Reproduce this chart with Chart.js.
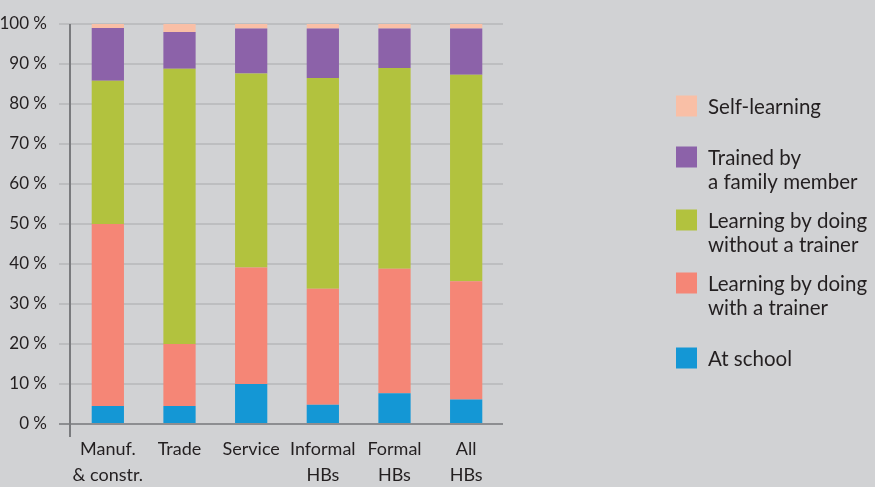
<!DOCTYPE html>
<html>
<head>
<meta charset="utf-8">
<script src="https://cdn.jsdelivr.net/npm/chart.js@4"></script>
<style>
  html, body { margin: 0; padding: 0; background: #d1d2d4; }
  #wrap { width: 875px; height: 487px; position: relative; }
</style>
</head>
<body>
<div id="wrap"><canvas id="chart"></canvas></div>
<script>
// ===== Data =====
const categories = [['Manuf.', '& constr.'], ['Trade'], ['Service'], ['Informal', 'HBs'], ['Formal', 'HBs'], ['All', 'HBs']];
const yTicks = [0, 10, 20, 30, 40, 50, 60, 70, 80, 90, 100];

const atSchool      = [4.5, 4.5, 10.0, 4.8, 7.7, 6.1];
const withTrainer   = [45.5, 15.5, 29.1, 29.0, 31.1, 29.6];
const withoutTrainer= [35.8, 68.8, 48.5, 52.7, 50.2, 51.6];
const familyMember  = [13.2, 9.2, 11.3, 12.4, 9.9, 11.6];
const selfLearning  = [1.0, 2.0, 1.1, 1.1, 1.1, 1.1];

const seriesNames = [
    ['At school'],
    ['Learning by doing', 'with a trainer'],
    ['Learning by doing', 'without a trainer'],
    ['Trained by', 'a family member'],
    ['Self-learning']
];
const seriesColors = ['#1497d5', '#f58676', '#b2c23e', '#8c62a9', '#f9bfa6'];
const seriesValues = [atSchool, withTrainer, withoutTrainer, familyMember, selfLearning];

const FONT = 'Lato, "Open Sans", sans-serif';
const TEXT = '#231f20';

// ===== Grid, axes and legend drawn by hand =====
const framePlugin = {
    id: 'frame',
    beforeDatasetsDraw(chart) {
        const { ctx, chartArea: a, scales: { y } } = chart;
        ctx.save();
        ctx.lineWidth = 2;
        ctx.strokeStyle = '#bdbec0';
        yTicks.forEach(v => {
            if (v === 0) return;
            const py = Math.round(y.getPixelForValue(v));
            ctx.beginPath();
            ctx.moveTo(a.left - 13, py);
            ctx.lineTo(a.right + 1, py);
            ctx.stroke();
        });
        ctx.restore();
    },
    afterDatasetsDraw(chart) {
        const { ctx, chartArea: a, scales: { y } } = chart;
        ctx.save();
        // x axis
        const y0 = Math.round(y.getPixelForValue(0));
        ctx.lineWidth = 2;
        ctx.strokeStyle = '#8d8e91';
        ctx.beginPath();
        ctx.moveTo(a.left - 13, y0);
        ctx.lineTo(a.right + 1, y0);
        ctx.stroke();
        // y axis
        ctx.strokeStyle = '#7a7b7e';
        ctx.beginPath();
        ctx.moveTo(a.left - 2, y.getPixelForValue(100));
        ctx.lineTo(a.left - 2, y0 + 13);
        ctx.stroke();

        // legend, top to bottom in reverse stacking order
        ctx.font = '20.5px ' + FONT;
        ctx.textBaseline = 'middle';
        const lx = 676, startY = 106, step = 63, lineH = 24;
        for (let i = seriesNames.length - 1, k = 0; i >= 0; i--, k++) {
            const lines = seriesNames[i];
            const cy = startY + k * step;
            const firstY = cy - (lines.length - 1) * lineH / 2;
            ctx.fillStyle = seriesColors[i];
            ctx.fillRect(lx, firstY - 10.5, 21, 21);
            ctx.fillStyle = TEXT;
            lines.forEach((t, j) => ctx.fillText(t, lx + 32, firstY + j * lineH + 1));
        }
        ctx.restore();
    }
};

function initChart() {
    const ctx = document.getElementById('chart');

    const datasets = seriesValues.map((vals, i) => ({
        label: seriesNames[i].join(' '),
        data: vals,
        backgroundColor: seriesColors[i],
        borderWidth: 0,
        barPercentage: 0.45,
        categoryPercentage: 1.0
    }));

    new Chart(ctx, {
        type: 'bar',
        data: { labels: categories, datasets: datasets },
        options: {
            responsive: true,
            maintainAspectRatio: false,
            animation: false,
            layout: { padding: { top: 24, right: 373, left: 0, bottom: 0 } },
            plugins: {
                legend: { display: false },
                tooltip: { enabled: false }
            },
            scales: {
                x: {
                    stacked: true,
                    grid: { display: false, drawTicks: false },
                    border: { display: false },
                    ticks: {
                        color: TEXT,
                        padding: 12,
                        maxRotation: 0,
                        autoSkip: false,
                        font: { family: FONT, size: 18, lineHeight: 1.45 }
                    },
                    afterFit: s => {
                        s.height = 63;
                        s.paddingLeft = 0;
                        s.paddingRight = 0;
                        s.paddingTop = 0;
                        s.paddingBottom = 0;
                    }
                },
                y: {
                    stacked: true,
                    min: 0,
                    max: 100,
                    grid: { display: false, drawTicks: false },
                    border: { display: false },
                    afterBuildTicks: s => { s.ticks = yTicks.map(v => ({ value: v })); },
                    ticks: {
                        color: TEXT,
                        padding: 25,
                        font: { family: FONT, size: 17 },
                        callback: v => v + ' %'
                    },
                    afterFit: s => {
                        s.width = 72;
                        s.paddingTop = 0;
                        s.paddingBottom = 0;
                    }
                }
            }
        },
        plugins: [framePlugin]
    });
}

document.addEventListener('DOMContentLoaded', initChart);
</script>
</body>
</html>
